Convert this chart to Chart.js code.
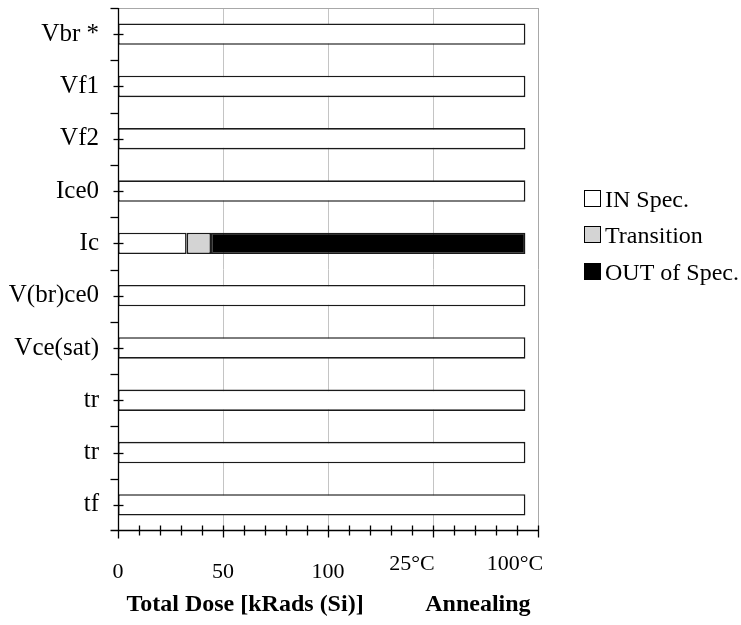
<!DOCTYPE html>
<html>
<head>
<meta charset="utf-8">
<script src="https://cdn.jsdelivr.net/npm/chart.js@4.4.1/dist/chart.umd.min.js"></script>
<style>
  html, body { margin: 0; padding: 0; background: #fff; }
  #wrap { width: 741px; height: 625px; position: relative; }
</style>
</head>
<body>
<div id="wrap"><canvas id="doseChart"></canvas></div>
<script>
const parameters = ["Vbr *", "Vf1", "Vf2", "Ice0", "Ic", "V(br)ce0", "Vce(sat)", "tr", "tr", "tf"];
const inSpec = [194, 194, 194, 194, 32.7, 194, 194, 194, 194, 194];
const transition = [null, null, null, null, 11.6, null, null, null, null, null];
const outOfSpec = [null, null, null, null, 149.7, null, null, null, null, null];

const doseTicks = [0, 50, 100];
const annealLabels = ["25°C", "100°C"];
const annealValues = [140, 189];
const axisTitles = ["Total Dose [kRads (Si)]", "Annealing"];
const axisTitleValues = [60.5, 171.4];

const seriesNames = ["IN Spec.", "Transition", "OUT of Spec."];
const seriesColors = ["#ffffff", "#d4d4d4", "#000000"];

const serif = "'Liberation Serif', 'Times New Roman', serif";

function strokeLine(ctx, x1, y1, x2, y2) {
  ctx.beginPath();
  ctx.moveTo(x1, y1);
  ctx.lineTo(x2, y2);
  ctx.stroke();
}

const axesPlugin = {
  id: "axesPlugin",
  beforeDatasetsDraw(chart) {
    const { ctx, chartArea } = chart;
    const x = chart.scales.x;
    ctx.save();
    ctx.lineWidth = 1;
    ctx.strokeStyle = "#c4c4c4";
    [50, 100, 150].forEach((v) => {
      const px = Math.round(x.getPixelForValue(v)) + 0.5;
      strokeLine(ctx, px, chartArea.top, px, chartArea.bottom);
    });
    // top and right frame
    ctx.strokeStyle = "#a8a8a8";
    const right = Math.round(x.getPixelForValue(200)) + 0.5;
    strokeLine(ctx, chartArea.left, chartArea.top + 0.5, right, chartArea.top + 0.5);
    strokeLine(ctx, right, chartArea.top, right, chartArea.bottom);
    ctx.restore();
  },
  afterDraw(chart) {
    const { ctx, chartArea } = chart;
    const x = chart.scales.x;
    const y = chart.scales.y;
    const axisX = Math.round(x.getPixelForValue(0)) + 0.5;
    const axisY = Math.round(chartArea.bottom) - 0.5;

    ctx.save();
    ctx.strokeStyle = "#000";
    ctx.lineWidth = 1.3;

    // axis lines
    strokeLine(ctx, axisX, chartArea.top, axisX, axisY + 8);
    strokeLine(ctx, axisX - 8, axisY, x.getPixelForValue(200) + 0.5, axisY);

    // y ticks: boundaries and category centres
    const n = parameters.length;
    for (let i = 0; i < n; i++) {
      const py = Math.round(y.top + (y.bottom - y.top) * i / n) + 0.5;
      strokeLine(ctx, axisX - 8, py, axisX, py);
    }
    for (let i = 0; i < n; i++) {
      const py = Math.round(y.getPixelForValue(i)) + 0.5;
      strokeLine(ctx, axisX - 5, py, axisX + 5, py);
    }

    // x ticks every 10
    for (let v = 10; v <= 200; v += 10) {
      const px = Math.round(x.getPixelForValue(v)) + 0.5;
      const big = v % 50 === 0;
      strokeLine(ctx, px, axisY - 5, px, axisY + (big ? 7 : 5));
    }

    // x labels
    ctx.fillStyle = "#000";
    ctx.textAlign = "center";
    ctx.textBaseline = "alphabetic";
    ctx.font = "22px " + serif;
    doseTicks.forEach((v) => {
      ctx.fillText(String(v), x.getPixelForValue(v), 578);
    });
    annealLabels.forEach((label, i) => {
      ctx.fillText(label, x.getPixelForValue(annealValues[i]), 570);
    });

    ctx.font = "bold 24px " + serif;
    axisTitles.forEach((t, i) => {
      ctx.fillText(t, x.getPixelForValue(axisTitleValues[i]), 611);
    });

    // legend
    ctx.textAlign = "left";
    ctx.font = "24px " + serif;
    ctx.lineWidth = 1;
    const baselines = [207, 243, 280];
    seriesNames.forEach((name, i) => {
      const b = baselines[i];
      ctx.fillStyle = seriesColors[i];
      ctx.fillRect(584, b - 17, 17, 17);
      ctx.strokeStyle = "#000";
      ctx.strokeRect(584.5, b - 16.5, 16, 16);
      ctx.fillStyle = "#000";
      ctx.fillText(name, 605, b);
    });
    ctx.restore();
  }
};

function makeSet(label, data, color) {
  return {
    label,
    data,
    backgroundColor: color,
    borderColor: "#1a1a1a",
    borderWidth: 1.6,
    borderSkipped: false,
    barPercentage: 0.41,
    categoryPercentage: 1
  };
}

new Chart(document.getElementById("doseChart"), {
  type: "bar",
  data: {
    labels: parameters,
    datasets: [
      makeSet(seriesNames[0], inSpec, seriesColors[0]),
      makeSet(seriesNames[1], transition, seriesColors[1]),
      makeSet(seriesNames[2], outOfSpec, seriesColors[2])
    ]
  },
  options: {
    indexAxis: "y",
    responsive: true,
    maintainAspectRatio: false,
    animation: false,
    layout: { padding: { top: 8, right: 203, left: 0, bottom: 0 } },
    plugins: {
      legend: { display: false },
      tooltip: { enabled: false }
    },
    scales: {
      x: {
        stacked: true,
        min: 0,
        max: 200,
        ticks: { display: false, stepSize: 10 },
        grid: { display: false },
        border: { display: false },
        afterFit: (scale) => {
          scale.height = 94;
          scale.paddingLeft = 0;
          scale.paddingRight = 0;
        }
      },
      y: {
        stacked: true,
        ticks: {
          color: "#000",
          padding: 19,
          font: { family: serif, size: 25 }
        },
        grid: { display: false, drawTicks: false },
        border: { display: false },
        afterFit: (scale) => {
          scale.width = 118;
          scale.paddingTop = 0;
          scale.paddingBottom = 0;
        }
      }
    }
  },
  plugins: [axesPlugin]
});
</script>
</body>
</html>
